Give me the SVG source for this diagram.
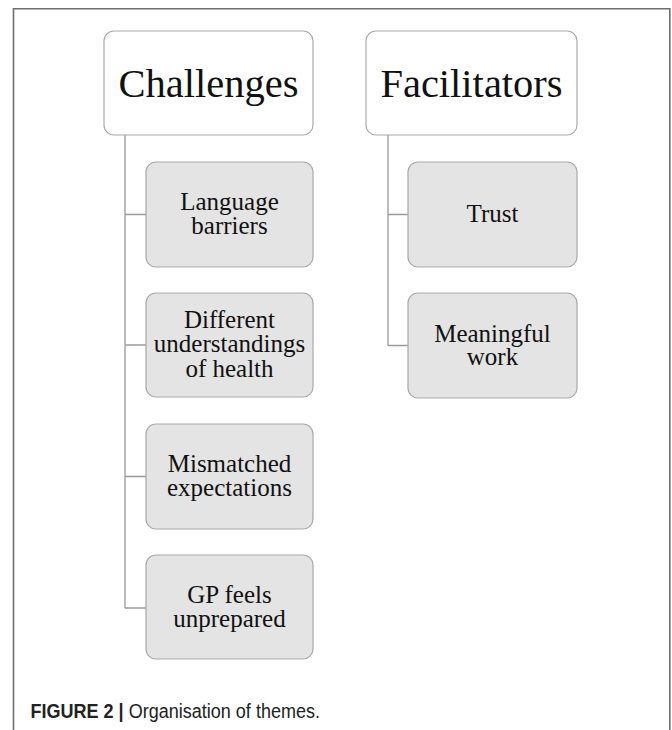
<svg xmlns="http://www.w3.org/2000/svg" width="672" height="730" viewBox="0 0 672 730">
<style>
.frame{fill:none;stroke:#6e6e6e;stroke-width:1.6}
.main rect{fill:#ffffff;stroke:#a9a9a9;stroke-width:1.2}
.sub rect{fill:#e4e4e4;stroke:#a9a9a9;stroke-width:1.2}
.conn{fill:none;stroke:#9a9a9a;stroke-width:1.3}
.ht{font-family:"Liberation Serif","Times New Roman",serif;font-size:40.5px;fill:#111;text-anchor:middle}
.st{font-family:"Liberation Serif","Times New Roman",serif;font-size:25px;fill:#111;text-anchor:middle}
.cap{font-family:"Liberation Sans",Arial,sans-serif;font-size:19.5px;fill:#222}
</style>
<rect x="0" y="0" width="672" height="730" fill="#ffffff"/>
<path class="frame" d="M13.5,730 V8.8 H669.8 V730"/>
<g id="connectors">
<path class="conn" d="M125,135 V608 M125,214.5 H146 M125,345 H146 M125,476.5 H146 M125,608 H146"/>
<path class="conn" d="M388,135 V345.5 M388,214.5 H408 M388,345.5 H408"/>
</g>
<g id="challenges" class="main">
<rect x="104" y="31" width="209" height="104" rx="10"/>
<text class="ht" x="208.5" y="97">Challenges</text>
</g>
<g id="facilitators" class="main">
<rect x="366" y="31" width="211" height="104" rx="10"/>
<text class="ht" x="471.5" y="97">Facilitators</text>
</g>
<g id="language-barriers" class="sub">
<rect x="146" y="162" width="167" height="105" rx="10"/>
<text class="st"><tspan x="229.5" y="209.5">Language</tspan><tspan x="229.5" y="233.5">barriers</tspan></text>
</g>
<g id="different-understandings" class="sub">
<rect x="146" y="293" width="167" height="104" rx="10"/>
<text class="st"><tspan x="229.5" y="327.5">Different</tspan><tspan x="229.5" y="352">understandings</tspan><tspan x="229.5" y="377">of health</tspan></text>
</g>
<g id="mismatched-expectations" class="sub">
<rect x="146" y="424" width="167" height="105" rx="10"/>
<text class="st"><tspan x="229.5" y="472">Mismatched</tspan><tspan x="229.5" y="495.5">expectations</tspan></text>
</g>
<g id="gp-feels-unprepared" class="sub">
<rect x="146" y="555" width="167" height="104" rx="10"/>
<text class="st"><tspan x="229.5" y="603">GP feels</tspan><tspan x="229.5" y="627">unprepared</tspan></text>
</g>
<g id="trust" class="sub">
<rect x="408" y="162" width="169" height="105" rx="10"/>
<text class="st" x="492.5" y="222">Trust</text>
</g>
<g id="meaningful-work" class="sub">
<rect x="408" y="293" width="169" height="105" rx="10"/>
<text class="st"><tspan x="492.5" y="341.5">Meaningful</tspan><tspan x="492.5" y="365">work</tspan></text>
</g>
<text class="cap" x="30.5" y="718" textLength="289.5" lengthAdjust="spacingAndGlyphs"><tspan font-weight="bold">FIGURE 2 |</tspan> Organisation of themes.</text>
</svg>
